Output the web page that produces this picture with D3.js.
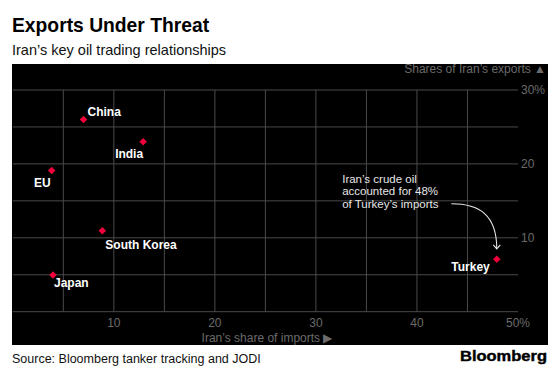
<!doctype html>
<html lang="en">
<head>
    <meta charset="utf-8">
    <style>
      body{ margin:0; background:#fff; }
      text{ font-family: Helvetica, Arial, "Liberation Sans", sans-serif; }
    </style>
</head>
<body>
    <script src="https://d3js.org/d3.v7.min.js"></script>
    <div id="chart"></div>
    <script>
        // data
        var countries = ["China", "India", "EU", "South Korea", "Japan", "Turkey"];
        var importShare = [7.0, 12.9, 3.85, 8.86, 3.98, 47.9];   // x, %
        var exportShare = [26.0, 23.0, 19.1, 10.96, 4.97, 7.09]; // y, %
        var xTicks = [10, 20, 30, 40, 50];
        var yTicks = [10, 20, 30];
        var gridX = [5, 10, 15, 20, 25, 30, 35, 40, 45];
        var gridY = [0, 5, 10, 15, 20, 25, 30];
        var noteLines = ["Iran\u2019s crude oil", "accounted for 48%", "of Turkey\u2019s imports"];

        // label placement per country (anchor, dx, dy)
        var labelPos = {
            "China":       ["start", 4, -4],
            "India":       ["end", 0, 16],
            "EU":          ["end", -1, 16],
            "South Korea": ["start", 3, 18],
            "Japan":       ["start", 1, 12],
            "Turkey":      ["end", -7, 12]
        };

        var width = 560, height = 373;
        var svg = d3.select("#chart").append("svg")
                    .attr("width", width)
                    .attr("height", height);

        // title block
        svg.append("text").attr("x", 12).attr("y", 32)
           .attr("font-size", 19.3).attr("font-weight", 700).attr("fill", "#000")
           .text("Exports Under Threat");
        svg.append("text").attr("x", 12).attr("y", 55)
           .attr("font-size", 14.5).attr("fill", "#111")
           .text("Iran\u2019s key oil trading relationships");

        // black panel
        svg.append("rect").attr("x", 12).attr("y", 64)
           .attr("width", 536).attr("height", 281).attr("fill", "#000");

        var x = d3.scaleLinear().domain([0, 50]).range([12.8, 518]);
        var y = d3.scaleLinear().domain([0, 30]).range([311.7, 90]);

        var grid = svg.append("g").attr("stroke", "#4a4a4a").attr("stroke-width", 1);
        grid.selectAll(".gy").data(gridY).enter().append("line")
            .attr("x1", x(0)).attr("x2", x(50))
            .attr("y1", function(d){ return y(d); })
            .attr("y2", function(d){ return y(d); });
        grid.selectAll(".gx").data(gridX).enter().append("line")
            .attr("x1", function(d){ return x(d); })
            .attr("x2", function(d){ return x(d); })
            .attr("y1", y(30)).attr("y2", y(0));

        // axis labels
        var tickColor = "#6b6b6b";
        svg.selectAll(".xt").data(xTicks).enter().append("text")
           .attr("x", function(d){ return x(d); })
           .attr("y", 327)
           .attr("text-anchor", "middle")
           .attr("font-size", 12).attr("fill", tickColor)
           .text(function(d){ return d === 50 ? d + "%" : d; });
        svg.selectAll(".yt").data(yTicks).enter().append("text")
           .attr("x", 521)
           .attr("y", function(d){ return y(d) + 4; })
           .attr("font-size", 12).attr("fill", tickColor)
           .text(function(d){ return d === 30 ? d + "%" : d; });

        svg.append("text").attr("x", 267).attr("y", 342)
           .attr("text-anchor", "middle")
           .attr("font-size", 12).attr("fill", tickColor)
           .text("Iran\u2019s share of imports \u25B6");
        svg.append("text").attr("x", 546).attr("y", 73)
           .attr("text-anchor", "end")
           .attr("font-size", 12).attr("fill", tickColor)
           .text("Shares of Iran\u2019s exports \u25B2");

        // points
        var pts = countries.map(function(c, i){
            return {name: c, ix: importShare[i], ex: exportShare[i]};
        });
        svg.selectAll(".pt").data(pts).enter().append("path")
           .attr("d", d3.symbol().type(d3.symbolDiamond2).size(36))
           .attr("transform", function(d){ return "translate(" + x(d.ix) + "," + y(d.ex) + ")"; })
           .attr("fill", "#f0003c");

        svg.selectAll(".lbl").data(pts).enter().append("text")
           .attr("x", function(d){ return x(d.ix) + labelPos[d.name][1]; })
           .attr("y", function(d){ return y(d.ex) + labelPos[d.name][2]; })
           .attr("text-anchor", function(d){ return labelPos[d.name][0]; })
           .attr("font-size", 12).attr("font-weight", 700).attr("fill", "#fff")
           .text(function(d){ return d.name; });

        // annotation
        var note = svg.append("text").attr("font-size", 11.5).attr("fill", "#e6e6e6");
        note.selectAll("tspan").data(noteLines).enter().append("tspan")
            .attr("x", x(32.6))
            .attr("y", function(d, i){ return y(17.4) + i * 12.3; })
            .text(function(d){ return d; });

        var t = pts[5];
        var sx = x(43.4), sy = y(14.6);
        var ex = x(t.ix), ey = y(t.ex) - 10.5;
        var p = d3.path();
        p.moveTo(sx, sy);
        p.bezierCurveTo(sx + 28, sy, ex, sy + 11, ex, ey);
        svg.append("path").attr("d", p.toString())
           .attr("fill", "none").attr("stroke", "#e6e6e6").attr("stroke-width", 1.1);
        svg.append("path")
           .attr("d", "M" + (ex - 3.5) + "," + (ey - 4) + "L" + ex + "," + ey + "L" + (ex + 3.5) + "," + (ey - 4))
           .attr("fill", "none").attr("stroke", "#e6e6e6").attr("stroke-width", 1.1);

        // footer
        svg.append("text").attr("x", 12).attr("y", 363)
           .attr("font-size", 12.5).attr("fill", "#111")
           .text("Source: Bloomberg tanker tracking and JODI");
        svg.append("text").attr("x", 547).attr("y", 361)
           .attr("text-anchor", "end")
           .attr("font-size", 14.5).attr("font-weight", 900).attr("fill", "#000")
           .attr("stroke", "#000").attr("stroke-width", 0.4)
           .attr("textLength", 87).attr("lengthAdjust", "spacingAndGlyphs")
           .text("Bloomberg");
    </script>
</body>
</html>
